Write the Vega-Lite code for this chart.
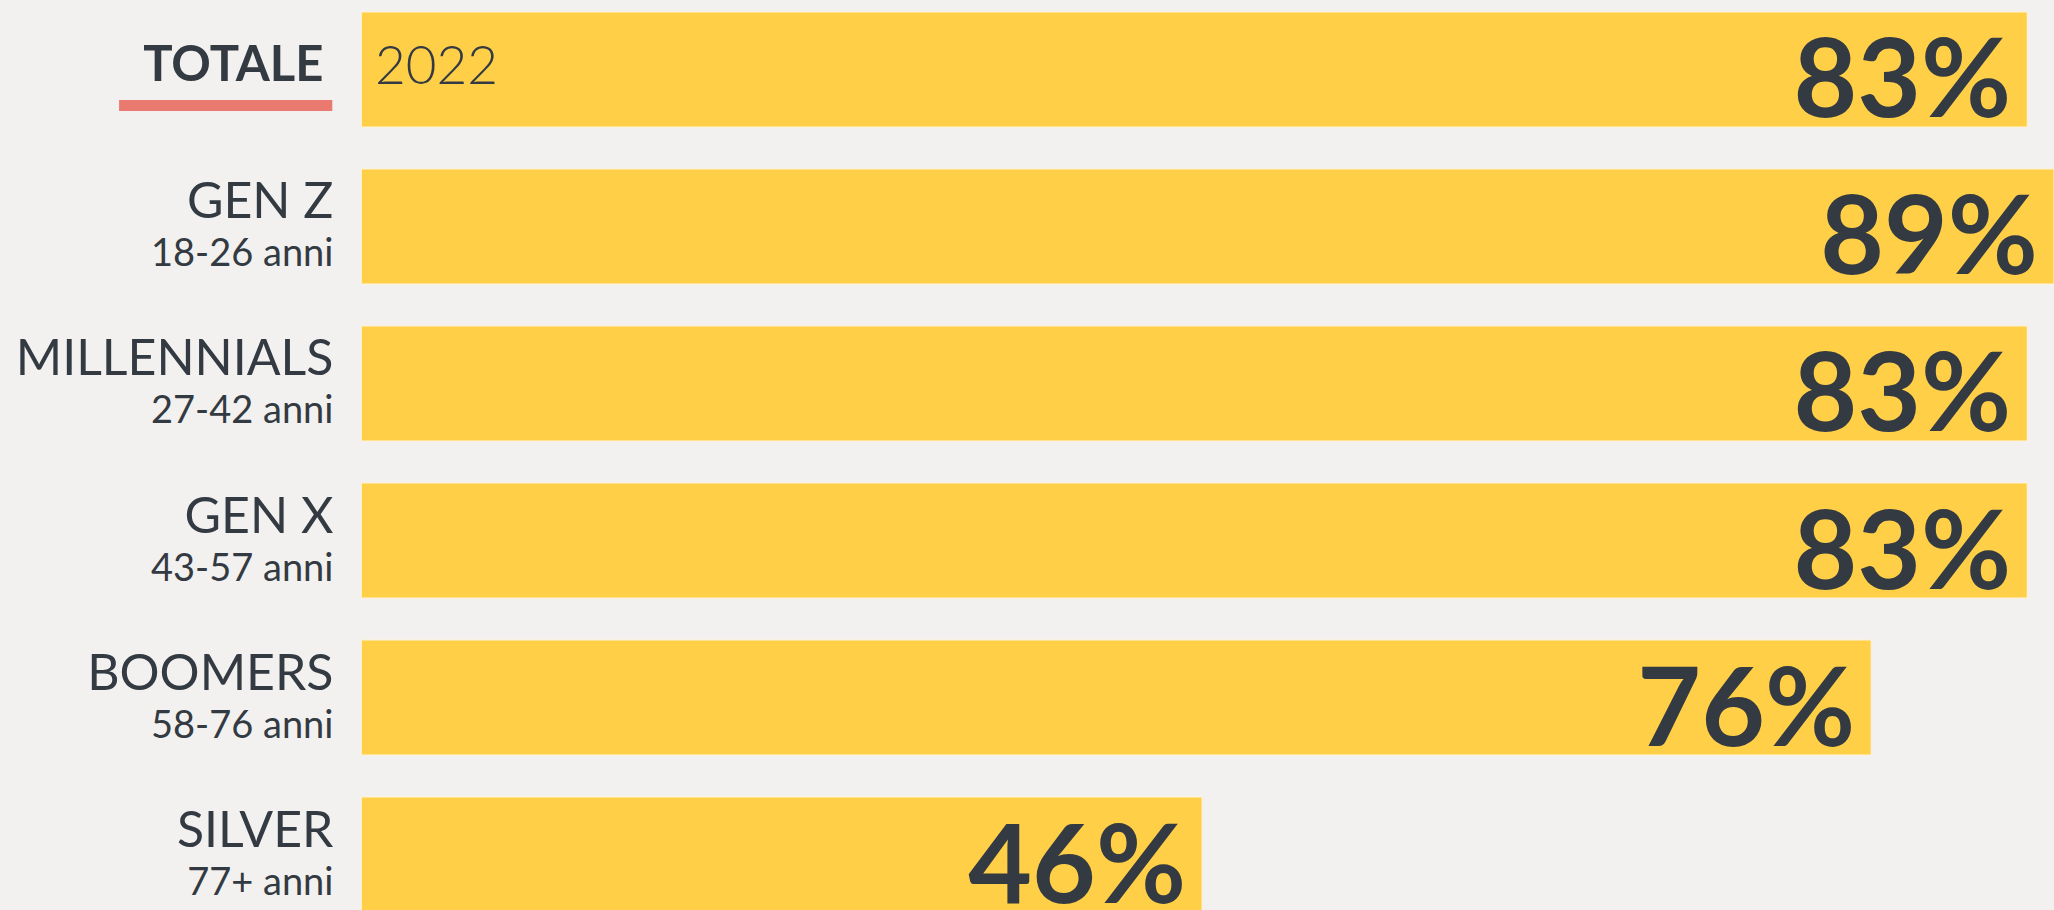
{
  "$schema": "https://vega.github.io/schema/vega-lite/v6.json",
  "width": 2054,
  "height": 910,
  "autosize": "none",
  "padding": 0,
  "background": "#f2f1ef",
  "config": {"view": {"stroke": null}, "font": "Lato"},
  "data": {
    "values": [
      {"group": "TOTALE", "sub": "", "year": "2022", "value": 0.83},
      {"group": "GEN Z", "sub": "18-26 anni", "year": "", "value": 0.89},
      {"group": "MILLENNIALS", "sub": "27-42 anni", "year": "", "value": 0.83},
      {"group": "GEN X", "sub": "43-57 anni", "year": "", "value": 0.83},
      {"group": "BOOMERS", "sub": "58-76 anni", "year": "", "value": 0.76},
      {"group": "SILVER", "sub": "77+ anni", "year": "", "value": 0.46}
    ]
  },
  "encoding": {
    "y": {
      "field": "group",
      "type": "nominal",
      "sort": null,
      "axis": null,
      "scale": {"domain": ["TOTALE", "GEN Z", "MILLENNIALS", "GEN X", "BOOMERS", "SILVER"], "range": [0, 924], "paddingInner": 0.2675, "paddingOuter": 0.0764}
    }
  },
  "layer": [
    {
      "mark": {"type": "bar", "color": "#ffcf48", "stroke": "#fff4d6", "strokeWidth": 1},
      "encoding": {
        "x": {"field": "value", "type": "quantitative", "axis": null,
              "scale": {"domain": [-0.079, 0.842], "range": [0, 2054], "clamp": true, "nice": false, "zero": false}},
        "x2": {"datum": 0.083}
      }
    },
    {
      "mark": {"type": "text", "align": "right", "baseline": "alphabetic", "dx": -16, "dy": 48, "fontSize": 110, "fontWeight": "bold", "color": "#333a42"},
      "encoding": {
        "x": {"field": "value", "type": "quantitative", "axis": null},
        "text": {"field": "value", "type": "quantitative", "format": ".0%"}
      }
    },
    {
      "transform": [{"filter": "datum.group !== 'TOTALE'"}],
      "mark": {"type": "text", "align": "right", "baseline": "alphabetic", "dy": -8, "fontSize": 50, "color": "#333a42"},
      "encoding": {
        "x": {"datum": 0.0705},
        "text": {"field": "group"}
      }
    },
    {
      "transform": [{"filter": "datum.group !== 'TOTALE'"}],
      "mark": {"type": "text", "align": "right", "baseline": "alphabetic", "dy": 40, "fontSize": 38, "color": "#333a42"},
      "encoding": {
        "x": {"datum": 0.0705},
        "text": {"field": "sub"}
      }
    },
    {
      "transform": [{"filter": "datum.group === 'TOTALE'"}],
      "mark": {"type": "text", "align": "right", "baseline": "alphabetic", "dy": 12, "fontSize": 49, "fontWeight": "bold", "color": "#333a42"},
      "encoding": {
        "x": {"datum": 0.066},
        "text": {"field": "group"}
      }
    },
    {
      "transform": [{"filter": "datum.group === 'TOTALE'"}],
      "mark": {"type": "text", "align": "left", "baseline": "alphabetic", "dy": 15, "fontSize": 53, "fontWeight": 300, "color": "#333a42"},
      "encoding": {
        "x": {"datum": 0.0892},
        "text": {"field": "year"}
      }
    },
    {
      "transform": [{"filter": "datum.group === 'TOTALE'"}],
      "mark": {"type": "rule", "color": "#ea7a70", "strokeWidth": 11, "yOffset": 36},
      "encoding": {
        "x": {"datum": -0.0256},
        "x2": {"datum": 0.07}
      }
    }
  ]
}
